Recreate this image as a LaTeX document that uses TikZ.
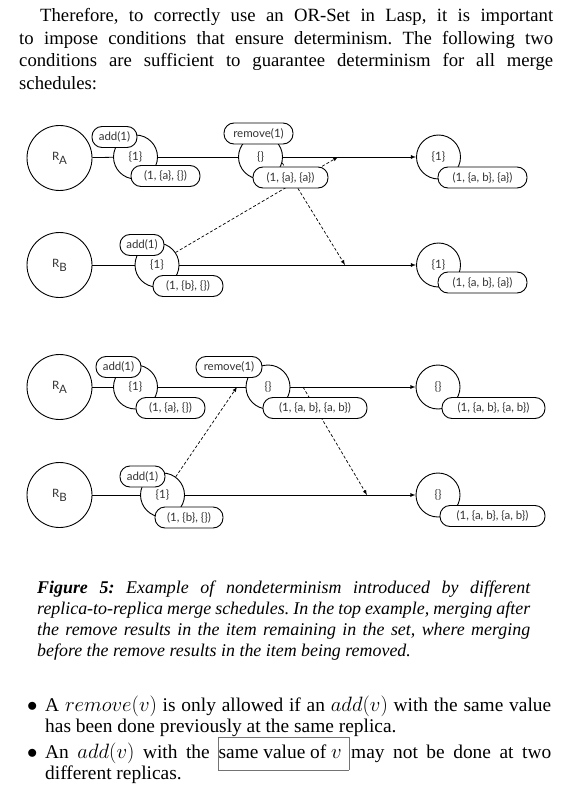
\documentclass[tikz,border=0pt]{standalone}
\usepackage{fontspec}
\setmainfont{Liberation Serif}
\newfontfamily\diagfont{Lato}
\frenchspacing

\begin{document}
\begin{tikzpicture}[x=1pt,y=-1pt]
    \tikzstyle{replica}=[circle,draw=black,fill=white,line width=0.9pt,minimum size=65pt,inner sep=0pt]
    \tikzstyle{state}=[circle,draw=black,fill=white,line width=0.9pt,minimum size=44pt,inner sep=0pt]
    \tikzstyle{op}=[rectangle,rounded corners=10pt,draw=black,fill=white,line width=0.9pt,minimum height=21pt,inner sep=0pt]
    \tikzstyle{fwd} = [draw=black, line width=0.8pt]
    \tikzstyle{merge} = [draw=black, line width=0.7pt, dash pattern=on 3pt off 2pt, -latex]
    \tikzstyle{line}=[anchor=base west,inner sep=0pt,font=\fontsize{18.7}{22.4}\selectfont]
    \tikzstyle{itemline}=[anchor=base west,inner sep=0pt,font=\fontsize{19.4}{21}\selectfont]
    \tikzstyle{capline}=[anchor=base west,inner sep=0pt,font=\fontsize{17.9}{21}\selectfont\itshape]

    \def\bw{534pt}
    \def\cw{493pt}
    \def\iw{506pt}

    \useasboundingbox (0,0) rectangle (577,794);

    % paragraph before the figure
    \node[line] (p1) at (40,22) {\makebox[513pt][s]{Therefore, to correctly use an OR-Set in Lasp, it is important}};
    \node[line] (p2) at (19,44.4) {\makebox[\bw][s]{to impose conditions that ensure determinism. The following two}};
    \node[line] (p3) at (19,66.8) {\makebox[\bw][s]{conditions are sufficient to guarantee determinism for all merge}};
    \node[line] (p4) at (19,89.2) {schedules:};

    \begin{scope}[shift={(0,0)}, font=\diagfont\fontsize{11.5}{13}\selectfont, text=black!80]

    \node[replica] (ra) at (59.5,158) {R\raisebox{-4pt}{A}};
    \node[state]   (a1) at (135.5,157) {\{1\}};
    \node[state]   (a2) at (260.5,157) {\{\}};
    \node[state]   (a3) at (438.5,157) {\{1\}};
    \node[replica] (rb) at (59.5,265) {R\raisebox{-4pt}{B}};
    \node[state]   (b1) at (157,265) {\{1\}};
    \node[state]   (b3) at (438.5,265) {\{1\}};
    \coordinate (m1) at (338,157);
    \coordinate (m2) at (345,265);

   \draw [fwd] (ra) -- (a1);
   \draw [fwd] (a1) -- (a2);
   \draw [fwd,-latex] (a2) -- (a3);
   \draw [fwd] (rb) -- (b1);
   \draw [fwd,-latex] (b1) -- (b3);
   \draw [merge] (b1.34) -- (m1);
   \draw [merge] (a2.-15) -- (m2);

    \node[op,minimum width=45pt] (oa1) at (114.5,137) {add(1)};
    \node[op,minimum width=69pt] (ta1) at (165.5,176) {(1, \{a\}, \{\})};
    \node[op,minimum width=69pt] (oa2) at (258.5,133.5) {remove(1)};
    \node[op,minimum width=75pt] (ta2) at (290.5,177.5) {(1, \{a\}, \{a\})};
    \node[op,minimum width=89pt] (ta3) at (482.5,177.5) {(1, \{a, b\}, \{a\})};
    \node[op,minimum width=44pt] (ob1) at (142,245) {add(1)};
    \node[op,minimum width=70pt] (tb1) at (188,286) {(1, \{b\}, \{\})};
    \node[op,minimum width=89pt] (tb3) at (482.5,282.5) {(1, \{a, b\}, \{a\})};

    \end{scope}

    \begin{scope}[shift={(0,230)}, font=\diagfont\fontsize{11.5}{13}\selectfont, text=black!80]

    \node[replica] (ra) at (59.5,157) {R\raisebox{-4pt}{A}};
    \node[state]   (a1) at (135.5,157) {\{1\}};
    \node[state]   (a2) at (268,157) {\{\}};
    \node[state]   (a3) at (438,157) {\{\}};
    \node[replica] (rb) at (59.5,265) {R\raisebox{-4pt}{B}};
    \node[state]   (b1) at (162.5,265) {\{1\}};
    \node[state]   (b3) at (438,265) {\{\}};
    \coordinate (m1) at (237,157);
    \coordinate (m3) at (303,157);
    \coordinate (m2) at (367,265);

   \draw [fwd] (ra) -- (a1);
   \draw [fwd] (a1) -- (a2);
   \draw [fwd,-latex] (a2) -- (a3);
   \draw [fwd] (rb) -- (b1);
   \draw [fwd,-latex] (b1) -- (b3);
   \draw [merge] (b1.54) -- (m1);
   \draw [merge] (m3) -- (m2);

    \node[op,minimum width=45pt] (oa1) at (118.5,137) {add(1)};
    \node[op,minimum width=69pt] (ta1) at (170.5,178) {(1, \{a\}, \{\})};
    \node[op,minimum width=66pt] (oa2) at (229,137) {remove(1)};
    \node[op,minimum width=104pt] (ta2) at (315,178) {(1, \{a, b\}, \{a, b\})};
    \node[op,minimum width=103pt] (ta3) at (493.5,178) {(1, \{a, b\}, \{a, b\})};
    \node[op,minimum width=45pt] (ob1) at (142.5,246.5) {add(1)};
    \node[op,minimum width=68pt] (tb1) at (189,287.5) {(1, \{b\}, \{\})};
    \node[op,minimum width=105pt] (tb3) at (492.5,286) {(1, \{a, b\}, \{a, b\})};

    \end{scope}

    % caption
    \node[capline] (c1) at (37,593) {\makebox[\cw][s]{\textbf{Figure 5:} Example of nondeterminism introduced by different}};
    \node[capline] (c2) at (37,614) {\makebox[\cw][s]{replica-to-replica merge schedules. In the top example, merging after}};
    \node[capline] (c3) at (37,635) {\makebox[\cw][s]{the remove results in the item remaining in the set, where merging}};
    \node[capline] (c4) at (37,656) {before the remove results in the item being removed.};

    % the two conditions
    \node[itemline] (d1) at (27,711) {$\bullet$};
    \node[itemline] (i1) at (45,711) {\makebox[\iw][s]{A $remove(v)$ is only allowed if an $add(v)$ with the same value}};
    \node[itemline] (i2) at (45,732) {has been done previously at the same replica.};
    \node[itemline] (d2) at (27,758) {$\bullet$};
    \node[itemline] (i3) at (45,758) {\makebox[\iw][s]{An $add(v)$ with the {\setlength{\fboxsep}{0pt}\fcolorbox{black!55}{white}{\rule[-12pt]{0pt}{33pt}same value of $v$\kern7pt}}\kern2pt may not be done at two}};
    \node[itemline] (i4) at (45,779) {different replicas.};

\end{tikzpicture}
\end{document}
